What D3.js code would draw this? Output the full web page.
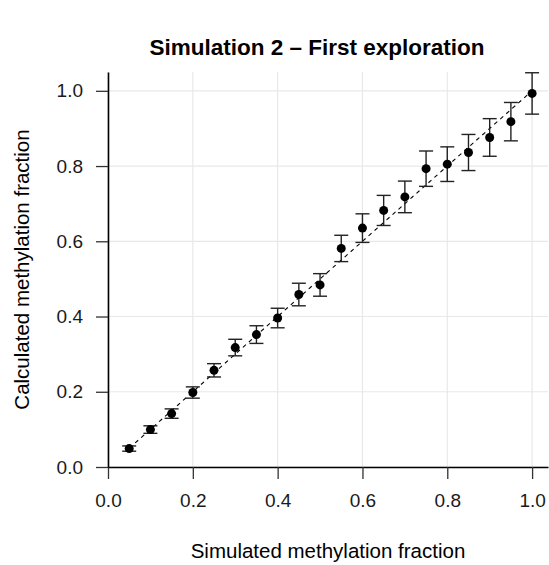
<!DOCTYPE html>
<html>
<head>
<meta charset="utf-8">
<script src="https://cdn.jsdelivr.net/npm/d3@7/dist/d3.min.js"></script>
<style>
  html, body { margin: 0; padding: 0; background: #fff; }
  svg { display: block; font-family: "Liberation Sans", Arial, sans-serif; }
</style>
</head>
<body>
<svg id="chart" width="549" height="565"></svg>
<script>
const titleText = "Simulation 2 \u2013 First exploration";
const xTitle = "Simulated methylation fraction";
const yTitle = "Calculated methylation fraction";

const simulated = [0.05, 0.10, 0.15, 0.20, 0.25, 0.30, 0.35, 0.40, 0.45, 0.50,
                   0.55, 0.60, 0.65, 0.70, 0.75, 0.80, 0.85, 0.90, 0.95, 1.00];
const calculated = [0.049, 0.0995, 0.142, 0.198, 0.257, 0.3175, 0.352, 0.396, 0.4585, 0.484,
                    0.581, 0.635, 0.682, 0.718, 0.793, 0.805, 0.836, 0.876, 0.918, 0.993];
const errorHalf = [0.007, 0.010, 0.0125, 0.015, 0.0177, 0.022, 0.0235, 0.026, 0.030, 0.030,
                   0.035, 0.038, 0.040, 0.042, 0.047, 0.046, 0.048, 0.050, 0.051, 0.055];
const refLine = [0.05, 1.0];

const xTicks = [0, 0.2, 0.4, 0.6, 0.8, 1.0];
const yTicks = [0, 0.2, 0.4, 0.6, 0.8, 1.0];

const svg = d3.select("#chart");
const pLeft = 108, pRight = 548, pTop = 72, pBottom = 467;

const x = d3.scaleLinear().domain([0, 1.0375]).range([pLeft, pRight]);
const y = d3.scaleLinear().domain([0, 1.05]).range([pBottom, pTop]);

// grid
svg.append("g").selectAll("line").data(xTicks).join("line")
  .attr("x1", d => x(d)).attr("x2", d => x(d))
  .attr("y1", pTop).attr("y2", pBottom)
  .attr("stroke", "#e8e8e8").attr("stroke-width", 1.2);
svg.append("g").selectAll("line").data(yTicks).join("line")
  .attr("x1", pLeft).attr("x2", pRight)
  .attr("y1", d => y(d)).attr("y2", d => y(d))
  .attr("stroke", "#e8e8e8").attr("stroke-width", 1.2);

// reference y = x line
svg.append("line")
  .attr("x1", x(refLine[0])).attr("y1", y(refLine[0]))
  .attr("x2", x(refLine[1])).attr("y2", y(refLine[1]))
  .attr("stroke", "#000").attr("stroke-width", 1.1)
  .attr("stroke-dasharray", "4,4");

// error bars
const data = simulated.map((s, i) => ({s, c: calculated[i], e: errorHalf[i]}));
const eb = svg.append("g").attr("stroke", "#222").attr("stroke-width", 1.4);
eb.selectAll(".v").data(data).join("line").attr("class", "v")
  .attr("x1", d => x(d.s)).attr("x2", d => x(d.s))
  .attr("y1", d => y(d.c - d.e)).attr("y2", d => y(d.c + d.e));
eb.selectAll(".t").data(data).join("line").attr("class", "t")
  .attr("x1", d => x(d.s) - 7).attr("x2", d => x(d.s) + 7)
  .attr("y1", d => y(d.c + d.e)).attr("y2", d => y(d.c + d.e));
eb.selectAll(".b").data(data).join("line").attr("class", "b")
  .attr("x1", d => x(d.s) - 7).attr("x2", d => x(d.s) + 7)
  .attr("y1", d => y(d.c - d.e)).attr("y2", d => y(d.c - d.e));

// points
svg.append("g").selectAll("circle").data(data).join("circle")
  .attr("cx", d => x(d.s)).attr("cy", d => y(d.c)).attr("r", 4.5)
  .attr("fill", "#000");

// axes
const fmt = d3.format(".1f");
const gx = svg.append("g").attr("transform", `translate(0,${pBottom})`)
  .call(d3.axisBottom(x).tickValues(xTicks).tickFormat(fmt).tickSize(12).tickSizeOuter(0).tickPadding(15));
const gy = svg.append("g").attr("transform", `translate(${pLeft},0)`)
  .call(d3.axisLeft(y).tickValues(yTicks).tickFormat(fmt).tickSize(12).tickSizeOuter(0).tickPadding(13));
[gx, gy].forEach(g => {
  g.select(".domain").attr("stroke", "#000").attr("stroke-width", 1.6);
  g.selectAll(".tick line").attr("stroke", "#333").attr("stroke-width", 1.3);
  g.selectAll(".tick text").attr("fill", "#1a1a1a")
    .style("font-size", "19px").style("font-family", "'Liberation Sans', Arial, sans-serif");
});

// titles
svg.append("text").attr("x", 317).attr("y", 55)
  .attr("text-anchor", "middle").attr("font-weight", "bold")
  .attr("font-size", 22.5).attr("fill", "#000").text(titleText);
svg.append("text").attr("x", (pLeft + pRight) / 2).attr("y", 558)
  .attr("text-anchor", "middle").attr("font-size", 20.5).attr("fill", "#000").text(xTitle);
svg.append("text").attr("transform", `translate(29,${(pTop + pBottom) / 2}) rotate(-90)`)
  .attr("text-anchor", "middle").attr("font-size", 20.5).attr("fill", "#000").text(yTitle);
</script>
</body>
</html>
